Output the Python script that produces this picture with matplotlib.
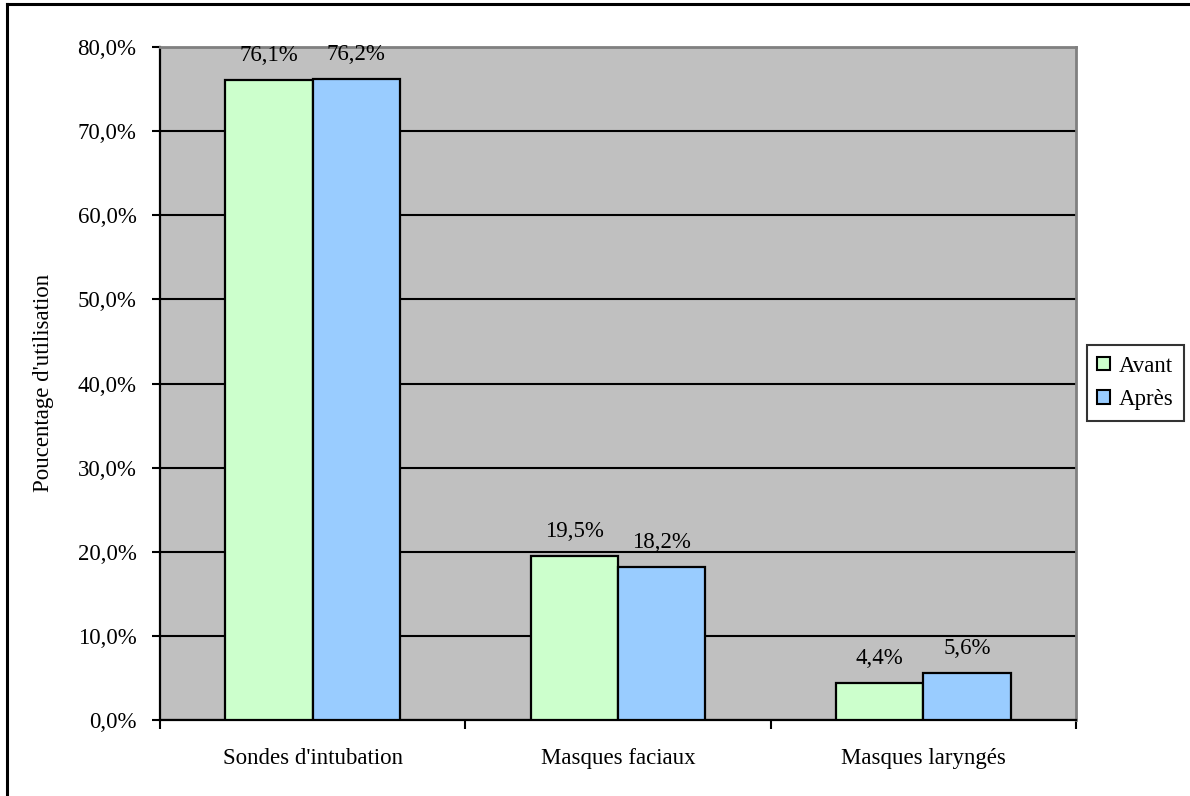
import matplotlib
matplotlib.use("Agg")
import matplotlib.pyplot as plt
from matplotlib.lines import Line2D
from matplotlib.patches import Patch
from matplotlib.ticker import FixedLocator, FuncFormatter
import numpy as np

categories = ["Sondes d'intubation", "Masques faciaux", "Masques laryngés"]
series_names = ["Avant", "Après"]
avant = [76.1, 19.5, 4.4]
apres = [76.2, 18.2, 5.6]
y_ticks = [0, 10, 20, 30, 40, 50, 60, 70, 80]
y_label = "Poucentage d'utilisation"

plt.rcParams["font.family"] = ["Liberation Serif", "DejaVu Serif"]
FS = 16.5
DPI = 100
W, H = 1190, 796

fig = plt.figure(figsize=(W / DPI, H / DPI), dpi=DPI)
ax = fig.add_axes([160 / W, 1 - 720 / H, (1076 - 160) / W, (720 - 47) / H])
ax.set_facecolor("#C0C0C0")

x = np.arange(len(categories))
bw = 1 / 3.5
colors = ["#CCFFCC", "#99CCFF"]
for i, (vals, col) in enumerate(zip([avant, apres], colors)):
    pos = x + (i - 0.5) * bw
    ax.bar(pos, vals, width=bw, color=col, edgecolor="black", linewidth=1.6, zorder=3)
    for px, v in zip(pos, vals):
        ax.annotate(f"{v:.1f}%".replace(".", ","), (px, v), xytext=(0, 13.5),
                    textcoords="offset points", ha="center", va="baseline",
                    fontsize=FS, zorder=4)

ax.set_xlim(-0.5, len(categories) - 0.5)
ax.set_ylim(0, 80)

# horizontal grid
ax.yaxis.set_major_locator(FixedLocator(y_ticks))
ax.yaxis.set_major_formatter(FuncFormatter(lambda v, p: f"{v:.1f}%".replace(".", ",")))
ax.grid(axis="y", color="black", linewidth=1.5, zorder=1)
ax.set_axisbelow(True)

# category boundaries as ticks, names centered between them
ax.xaxis.set_major_locator(FixedLocator(np.arange(len(categories) + 1) - 0.5))
ax.xaxis.set_major_formatter(FuncFormatter(lambda v, p: ""))
ax.xaxis.set_minor_locator(FixedLocator(x))
ax.set_xticklabels(categories, minor=True)
ax.tick_params(axis="x", which="minor", length=0, pad=20, labelsize=FS)
ax.tick_params(axis="x", which="major", length=6.5, width=1.5, direction="out")
ax.tick_params(axis="y", length=6, width=1.5, direction="out", pad=11, labelsize=FS)

for s in ["left", "bottom"]:
    ax.spines[s].set_color("black")
    ax.spines[s].set_linewidth(1.6)
for s in ["top", "right"]:
    ax.spines[s].set_color("#808080")
    ax.spines[s].set_linewidth(2)

fig.text(43 / W, 1 - 383 / H, y_label, rotation=90, ha="center", va="center", fontsize=FS)

handles = [Patch(facecolor=c, edgecolor="black", linewidth=1.5) for c in colors]
leg = fig.legend(handles, series_names, loc="center left",
                 bbox_to_anchor=(1087 / W, 1 - 383 / H), fontsize=FS,
                 frameon=True, fancybox=False, edgecolor="black",
                 handlelength=0.55, handleheight=0.55, handletextpad=0.4,
                 borderpad=0.45, labelspacing=0.55, borderaxespad=0)
leg.get_frame().set_linewidth(1.5)

# outer chart border
fig.add_artist(Line2D([7 / W, 7 / W], [0, 1 - 4 / H], color="black", linewidth=2.2,
                      transform=fig.transFigure))
fig.add_artist(Line2D([7 / W, 1], [1 - 4 / H, 1 - 4 / H], color="black", linewidth=2.2,
                      transform=fig.transFigure))

fig.savefig("out.png", dpi=DPI)
